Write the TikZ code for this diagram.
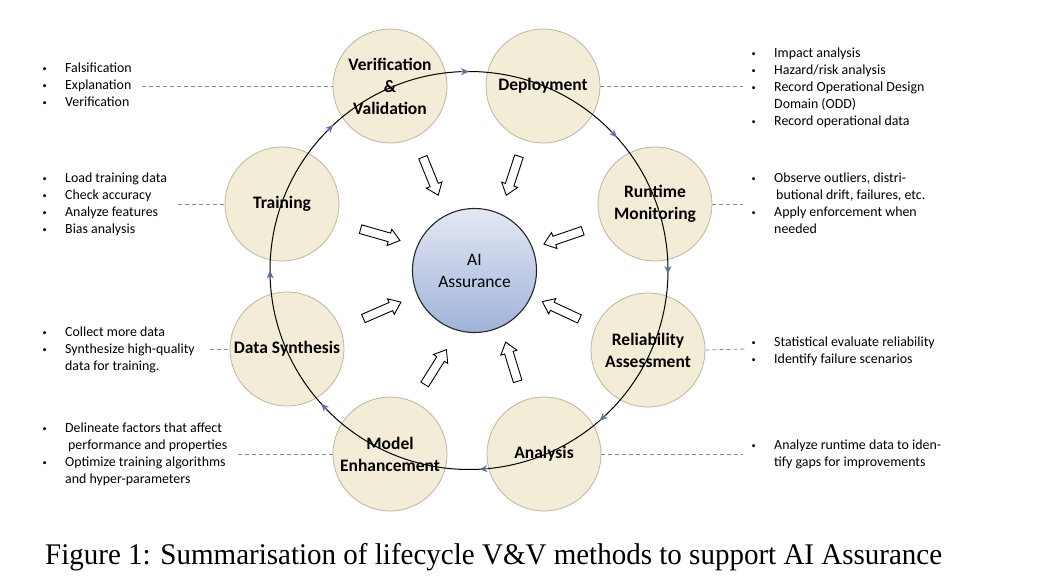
\documentclass[tikz,border=0pt]{standalone}
\usepackage{fontspec}
\setmainfont{Carlito}
\newfontfamily\capfont{Liberation Serif}
\usetikzlibrary{shapes.arrows,arrows.meta,calc}
\definecolor{stagefill}{HTML}{F3EDD8}
\definecolor{stageline}{HTML}{BBB69C}
\definecolor{ringblue}{HTML}{5B6FA8}
\definecolor{dashcol}{HTML}{7F8BA0}
\definecolor{coretop}{HTML}{E3E8F3}
\definecolor{corebot}{HTML}{A0B3DA}
\newcommand{\bl}[1]{\strut\makebox[23.5pt][l]{\hspace*{1pt}\raisebox{1pt}{\scalebox{0.6}{\textbullet}}}#1}
\newcommand{\cl}[1]{\strut\hspace*{23.5pt}#1}
\begin{document}
\begin{tikzpicture}[x=1pt,y=-1pt,
  stage/.style={circle, draw=stageline, line width=0.8pt, fill=stagefill, minimum size=114pt, inner sep=0pt, font=\fontsize{17.5}{22}\selectfont\bfseries, align=center},
  core/.style={circle, draw=black!85, line width=1.1pt, top color=coretop, bottom color=corebot, minimum size=124pt, inner sep=0pt, font=\fontsize{17.5}{22}\selectfont, align=center},
  bullets/.style={anchor=north west, inner sep=0pt, align=left, font=\fontsize{13.9}{17}\selectfont},
  feed/.style={single arrow, draw=black, line width=0.9pt, fill=white, minimum height=41pt, inner sep=4pt, single arrow head extend=4pt, single arrow tip angle=75},
  dashlink/.style={draw=dashcol, dash pattern=on 4pt off 3pt, line width=0.8pt},
  ring/.style={line width=1pt, draw=black},
  ringtip/.style={draw=ringblue, line width=1pt, -{Stealth[length=8pt,width=7pt]}}
]
\path[use as bounding box, fill=white] (0,0) rectangle (1044,578);

% stages
\node[stage] (vv)  at (390,86)  {Verification\\\&\\Validation};
\node[stage] (dep) at (543,86)  {Deployment};
\node[stage] (rm)  at (655,204) {Runtime\\Monitoring};
\node[stage] (ra)  at (648,350) {Reliability\\Assessment};
\node[stage] (an)  at (544,454) {Analysis};
\node[stage] (me)  at (390,454) {Model\\Enhancement};
\node[stage] (ds)  at (287,349) {Data Synthesis};
\node[stage] (tr)  at (282,204) {Training};

% ring
\coordinate (ringc) at (469,270.5);
\draw[ring] (ringc) circle[radius=199];
\foreach \a in {-90,-42,1,49,87,138,180,227}{
  \draw[ringtip] ($(ringc)+(\a-2.5:199)$) -- ($(ringc)+(\a:199)$);
}

% core
\node[core] (core) at (474.5,270.5) {AI\\Assurance};

% feed arrows
\node[feed, rotate=-68]  (f1) at (429.5,173.5) {};
\node[feed, rotate=-108] (f2) at (513.5,173) {};
\node[feed, rotate=-16]  (f3) at (377.5,234) {};
\node[feed, rotate=-161] (f4) at (566,236.5) {};
\node[feed, rotate=23.5] (f5) at (379.5,311.5) {};
\node[feed, rotate=155]  (f6) at (563.5,311.5) {};
\node[feed, rotate=58]   (f7) at (434,369.5) {};
\node[feed, rotate=107]  (f8) at (512.5,364.5) {};

% text blocks
\node[bullets] (tvv) at (41.5,60.6) {\bl{Falsification}\\\bl{Explanation}\\\bl{Verification}};
\node[bullets] (ttr) at (41.5,170.6) {\bl{Load training data}\\\bl{Check accuracy}\\\bl{Analyze features}\\\bl{Bias analysis}};
\node[bullets] (tds) at (41.5,324.6) {\bl{Collect more data}\\\bl{Synthesize high-quality}\\\cl{data for training.}};
\node[bullets] (tme) at (41.5,420.6) {\bl{Delineate factors that affect}\\\cl{\hspace*{3pt}performance and properties}\\\bl{Optimize training algorithms}\\\cl{and hyper-parameters}};
\node[bullets] (tdep) at (750.5,45.6) {\bl{Impact analysis}\\\bl{Hazard/risk analysis}\\\bl{Record Operational Design}\\\cl{Domain (ODD)}\\\bl{Record operational data}};
\node[bullets] (trm) at (750.5,170.6) {\bl{Observe outliers, distri-}\\\cl{\hspace*{2pt}butional drift, failures, etc.}\\\bl{Apply enforcement when}\\\cl{needed}};
\node[bullets] (tra) at (750.5,334.6) {\bl{Statistical evaluate reliability}\\\bl{Identify failure scenarios}};
\node[bullets] (tan) at (750.5,437.6) {\bl{Analyze runtime data to iden-}\\\cl{tify gaps for improvements}};

% dashed links
\coordinate (dvv) at (142,86);
\coordinate (dtr) at (178,204);
\coordinate (dds) at (210,349);
\coordinate (dme) at (238,454);
\coordinate (ddep) at (743,86);
\coordinate (drm) at (743,204);
\coordinate (dra) at (747,349);
\coordinate (dan) at (743,454);
\draw[dashlink] (dvv) -- (vv.west);
\draw[dashlink] (dtr) -- (tr.west);
\draw[dashlink] (dds) -- (ds.west);
\draw[dashlink] (dme) -- (me.west);
\draw[dashlink] (dep.east) -- (ddep);
\draw[dashlink] (rm.east) -- (drm);
\draw[dashlink] (ra.east) -- (dra);
\draw[dashlink] (an.east) -- (dan);

% caption
\node[anchor=base west, inner sep=0pt] (cap) at (45,564) {\resizebox{897pt}{\height}{\capfont\fontsize{30}{30}\selectfont Figure 1: Summarisation of lifecycle V\&V methods to support AI Assurance}};
\end{tikzpicture}
\end{document}
